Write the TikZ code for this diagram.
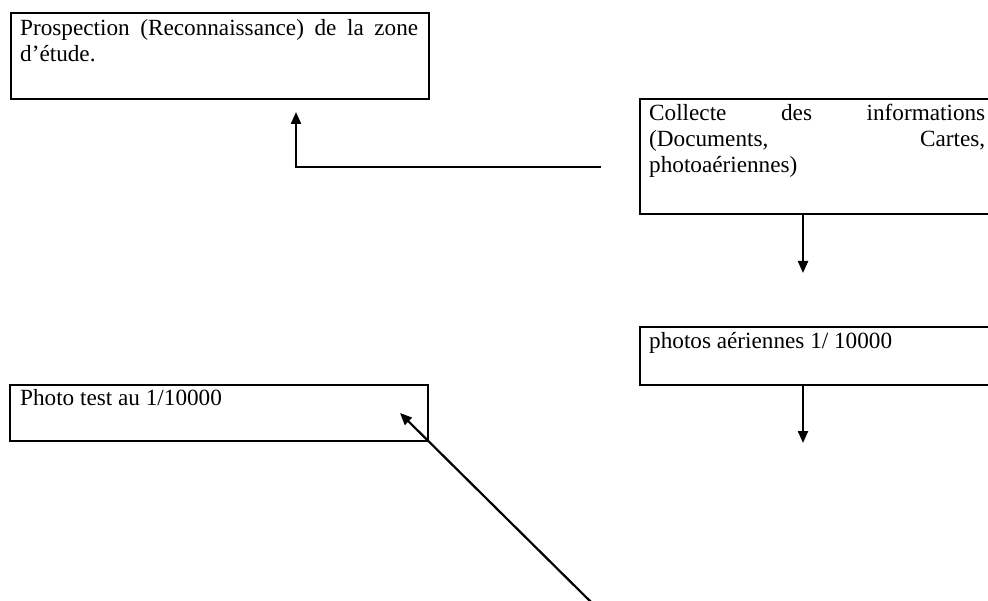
\documentclass[tikz,border=0pt]{standalone}
\usepackage{fontspec}
\setmainfont{Liberation Serif}
\usetikzlibrary{arrows.meta}
\begin{document}
\begin{tikzpicture}[x=1pt,y=-1pt,
  box/.style={draw, line width=2.4pt, inner sep=0pt, anchor=north west},
  txt/.style={font=\fontsize{23.2}{26}\selectfont, inner sep=0pt, anchor=base west, align=justify},
  arr/.style={line width=2.2pt, -{Triangle[length=12pt,width=10pt]}}]
\useasboundingbox (0,0) rectangle (988,601);
\clip (0,0) rectangle (988,601);
% boxes
\node[box, minimum width=418pt, minimum height=86pt] (b1) at (10,12) {};
\node[box, minimum width=420pt, minimum height=115pt] (b2) at (639,98) {};
\node[box, minimum width=420pt, minimum height=58pt] (b3) at (639,326) {};
\node[box, minimum width=418pt, minimum height=56pt] (b4) at (9,384) {};
% texts
\node[txt, text width=398pt] (t1) at (20,36) {Prospection (Reconnaissance) de la zone\linebreak d’étude.};
\node[txt, text width=336pt] (t2) at (649,121) {Collecte des informations\linebreak (Documents, Cartes,\linebreak photoaériennes)};
\node[txt, text width=336pt] (t3) at (649,349) {photos aériennes 1/ 10000};
\node[txt, text width=398pt] (t4) at (20,406) {Photo test au 1/10000};
% connectors
\coordinate (c1) at (601,167);
\coordinate (e1) at (296,112);
\draw[arr] (c1) -| (e1);
\coordinate (e2) at (803,273);
\draw[arr] (e2 |- b2.south) -- (e2);
\coordinate (e3) at (803,443);
\draw[arr] (e3 |- b3.south) -- (e3);
\coordinate (s4) at (593,604);
\coordinate (e4) at (400,413);
\draw[arr] (s4) -- (e4);
\end{tikzpicture}
\end{document}
